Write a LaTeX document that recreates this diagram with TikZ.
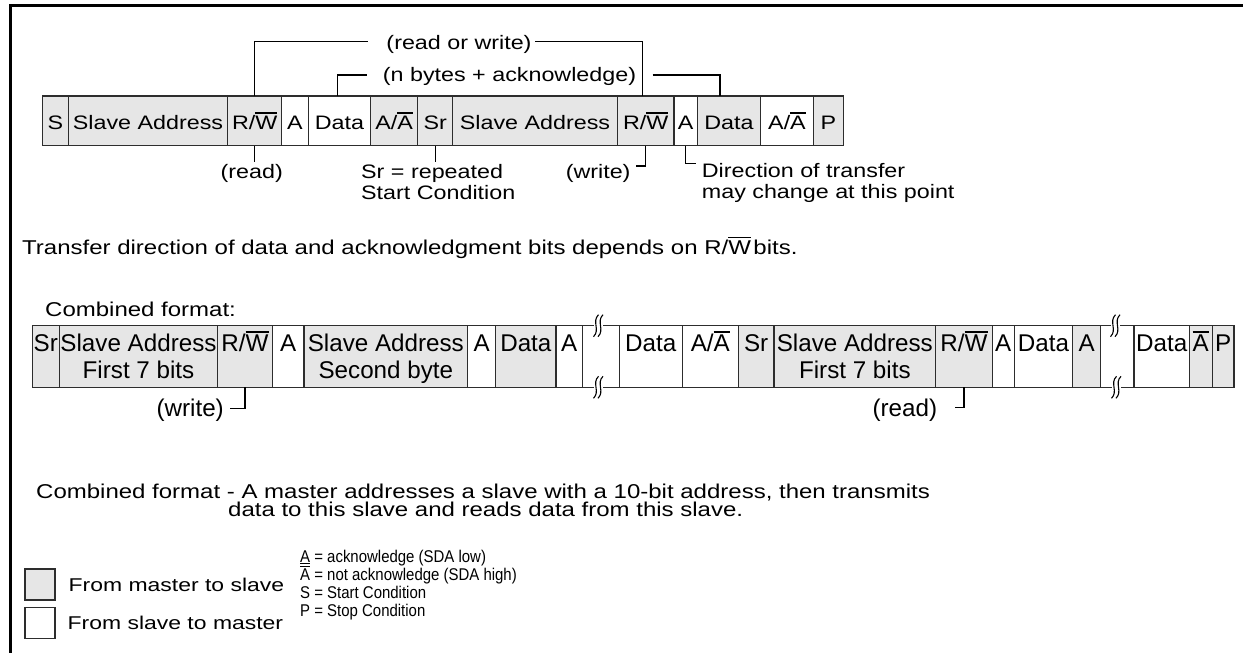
\documentclass[tikz,border=0pt]{standalone}
\usepackage{fontspec}
\setmainfont{Liberation Sans}
\newfontfamily\fA{Liberation Sans}[FakeStretch=1.195]
\newfontfamily\fB{Liberation Sans}[FakeStretch=1.0]
\newfontfamily\fC{Liberation Sans}[FakeStretch=1.2]
\newfontfamily\fD{Liberation Sans}[FakeStretch=1.24]
\newfontfamily\fE{Liberation Sans}[FakeStretch=0.88]
\definecolor{cellg}{RGB}{230,230,230}
\definecolor{boxc}{RGB}{45,45,45}
\newsavebox\ovbx
\newcommand\ov[1]{\sbox\ovbx{#1}\rlap{\rule[\dimexpr\ht\ovbx+0.1em\relax]{\wd\ovbx}{0.065em}}\usebox\ovbx}
\newcommand\un[1]{\sbox\ovbx{#1}\rlap{\rule[-0.12em]{\wd\ovbx}{0.065em}}\usebox\ovbx}
\tikzset{
  box/.style={draw=boxc, line width=1.3pt, inner sep=0pt, outer sep=0pt},
  gc/.style={box, fill=cellg},
  wc/.style={box, fill=white},
  fa/.style={font=\fA\fontsize{19.5}{21}\selectfont, inner sep=0pt},
  fb/.style={font=\fB\fontsize{24.2}{26.6}\selectfont, inner sep=0pt},
  fc/.style={font=\fC\fontsize{20}{22}\selectfont, inner sep=0pt},
  fd/.style={font=\fD\fontsize{18.5}{20}\selectfont, inner sep=0pt},
  fe/.style={font=\fE\fontsize{17}{18}\selectfont, inner sep=0pt},
  conn/.style={line width=1.2pt, draw=black},
}
\newcommand\rA[5]{\pgfmathsetmacro\myx{(#2+#3)/2}\pgfmathsetmacro\myw{#3-#2}%
  \node[#4, fa, minimum width=\myw pt, minimum height=49.5pt, text height=16.5pt, text depth=0pt] (#1) at (\myx,120.75) {#5};}
\newcommand\rB[5]{\pgfmathsetmacro\myx{(#2+#3)/2}\pgfmathsetmacro\myw{#3-#2}%
  \node[#4, fb, minimum width=\myw pt, minimum height=61.6pt, text height=10pt, text depth=19.6pt] (#1) at (\myx,356.5) {#5};}
\newcommand\brk[2]{%
  \fill[white] (#1-2,#2-2.5) rectangle (#1+6.5,#2+2.5);
  \draw[line width=1.1pt] (#1+2.5,#2-11) .. controls (#1-4.5,#2-4) and (#1+4.5,#2+4) .. (#1-2.5,#2+11);
  \draw[line width=1.1pt] (#1+7,#2-11) .. controls (#1,#2-4) and (#1+9,#2+4) .. (#1+2,#2+11);}
\begin{document}
\begin{tikzpicture}[x=1pt,y=-1pt]
\useasboundingbox (0,0) rectangle (1243,653);
% frame
\draw[line width=3pt, line join=miter] (10,653) -- (10,5.3) -- (1243,5.3);
% ---------- row 1 ----------
\rA{c1}{42.7}{68.3}{gc}{S}
\rA{c2}{68.3}{227.7}{gc}{Slave Address}
\rA{c3}{227.7}{281.7}{gc}{R/\ov{W}}
\rA{c4}{281.7}{308.3}{wc}{A}
\rA{c5}{308.3}{370.7}{wc}{Data}
\rA{c6}{370.7}{417.7}{gc}{A/\ov{A}}
\rA{c7}{417.7}{452.7}{gc}{Sr}
\rA{c8}{452.7}{617.3}{gc}{Slave Address}
\rA{c9}{617.3}{674}{gc}{R/\ov{W}}
\rA{c10}{674}{697.3}{wc}{A}
\rA{c11}{697.3}{760.7}{gc}{Data}
\rA{c12}{760.7}{813.3}{wc}{A/\ov{A}}
\rA{c13}{813.3}{843.3}{gc}{P}
% brackets above row 1
\node[fa, anchor=base] (rw) at (459,49.2) {(read or write)};
\coordinate (rwL) at (368,41.7);
\coordinate (rwR) at (535,41.7);
\draw[conn] ([xshift=-0.4pt]c3.north) |- (rwL);
\draw[conn] (rwR) -| ([xshift=-2.9pt]c9.north);
\node[fa, anchor=base] (nb) at (509.5,81.9) {(n bytes + acknowledge)};
\coordinate (nbL) at (366.7,75);
\coordinate (nbR) at (652.7,75);
\draw[conn] ([xshift=-2.2pt]c5.north) |- (nbL);
\draw[conn] (nbR) -| ([xshift=-9pt]c11.north);
% labels below row 1
\node[fa, anchor=base] (rd1) at (251.7,178) {(read)};
\draw[conn] (c3.south) -- ([yshift=2pt]c3.south |- rd1.north);
\node[fa, anchor=base west] (sr1) at (361,178) {Sr = repeated};
\node[fa, anchor=base west] (sr2) at (361,199.5) {Start Condition};
\draw[conn] (c7.south) -- ([yshift=2pt]c7.south |- sr1.north);
\node[fa, anchor=base east] (wr1) at (630.7,178) {(write)};
\coordinate (wr1c) at (636,166);
\draw[conn] (c9.south) |- (wr1c);
\node[fa, anchor=base west] (dt1) at (701.7,177) {Direction of transfer};
\node[fa, anchor=base west] (dt2) at (701.7,198) {may change at this point};
\coordinate (dtc) at (696,163.3);
\draw[conn] (c10.south) |- (dtc);
% sentence
\node[fc, anchor=base west] (t1) at (22,254) {Transfer direction of data and acknowledgment bits depends on R/\ov{W}\hspace{0.12em}bits.};
\node[fc, anchor=base west] (cf) at (45,316) {Combined format:};
% ---------- row 2 ----------
\rB{a1}{32.3}{59.3}{gc}{Sr}
\rB{a2}{59.3}{217.7}{gc}{Slave Address}
\rB{a3}{217.7}{272.3}{gc}{R/\ov{W}}
\rB{a4}{272.3}{304}{wc}{A}
\rB{a5}{304}{467.7}{gc}{Slave Address}
\rB{a6}{467.7}{495.7}{wc}{A}
\rB{a7}{495.7}{556}{gc}{Data}
\rB{a8}{556}{582.3}{wc}{A}
\rB{a9}{582.3}{619.3}{wc}{}
\rB{a10}{619.3}{682.3}{wc}{Data}
\rB{a11}{682.3}{738.3}{wc}{A/\ov{A}}
\rB{a12}{738.3}{774}{gc}{Sr}
\rB{a13}{774}{935.7}{gc}{Slave Address}
\rB{a14}{935.7}{992.3}{gc}{R/\ov{W}}
\rB{a15}{992.3}{1014.3}{wc}{A}
\rB{a16}{1014.3}{1072.7}{wc}{Data}
\rB{a17}{1072.7}{1100.7}{gc}{A}
\rB{a18}{1100.7}{1134}{wc}{}
\rB{a19}{1134}{1189.3}{wc}{Data}
\rB{a20}{1189.3}{1212.3}{gc}{\ov{A}}
\rB{a21}{1212.3}{1234}{gc}{P}
\node[fb, anchor=base] (a2b) at (a2 |- 0,378.3) {First 7 bits};
\node[fb, anchor=base] (a5b) at (a5 |- 0,378.3) {Second byte};
\node[fb, anchor=base] (a13b) at (a13 |- 0,378.3) {First 7 bits};
\brk{596}{325.7}
\brk{596}{387.3}
\brk{1113}{325.7}
\brk{1114}{387.3}
% labels below row 2
\node[fb, anchor=base east] (wr2) at (224,416.6) {(write)};
\coordinate (wr2c) at (230,408.3);
\draw[conn] (a3.south) |- (wr2c);
\node[fb, anchor=base east] (rd2) at (937.3,416.6) {(read)};
\coordinate (rd2c) at (955,407.3);
\draw[conn] (a14.south) |- (rd2c);
% description
\node[fc, anchor=base west] (d1) at (36,498) {Combined format - A master addresses a slave with a 10-bit address, then transmits};
\node[fc, anchor=base west] (d2) at (228,516) {data to this slave and reads data from this slave.};
% legend
\node[gc, minimum width=30pt, minimum height=31pt] (lg) at (40,584.5) {};
\node[wc, minimum width=30pt, minimum height=31pt] (lw) at (40,623) {};
\node[fd, anchor=base west] (lgt) at (68.5,591) {From master to slave};
\node[fd, anchor=base west] (lwt) at (67.5,629) {From slave to master};
\node[fe, anchor=base west] (k1) at (300,562) {\un{A} = acknowledge (SDA low)};
\node[fe, anchor=base west] (k2) at (300,580.5) {\ov{A} = not acknowledge (SDA high)};
\node[fe, anchor=base west] (k3) at (300,598) {S = Start Condition};
\node[fe, anchor=base west] (k4) at (300,616) {P = Stop Condition};
\end{tikzpicture}
\end{document}
